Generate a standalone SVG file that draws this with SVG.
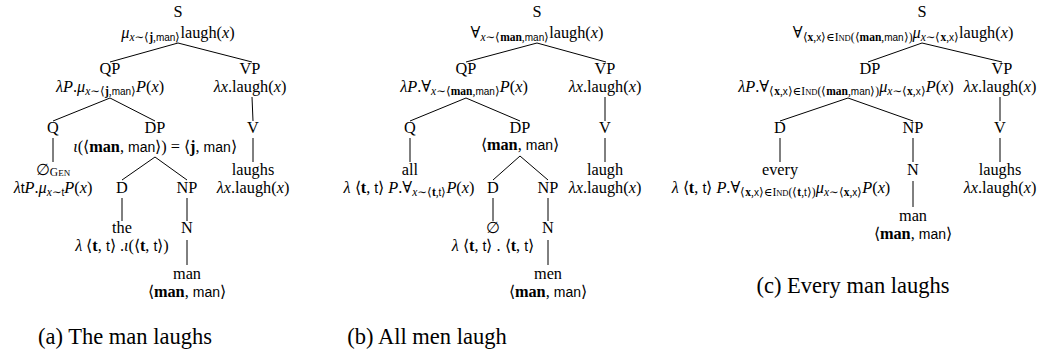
<svg xmlns="http://www.w3.org/2000/svg" width="1050" height="362" viewBox="0 0 1050 362">
<style>
text { font-family: "Liberation Serif", "DejaVu Serif", serif; font-size: 16.3px; fill: #000; text-anchor: middle; }
.i { font-style: italic; }
.b { font-weight: bold; }
.sf { font-family: "Liberation Sans", "DejaVu Sans", sans-serif; font-size: 14px; }
.s { font-size: 11.5px; }
.ss { font-family: "Liberation Sans", "DejaVu Sans", sans-serif; font-size: 10px; }
.sc { font-size: 9px; }
.sc2 { font-size: 8.5px; }
.a { font-family: "DejaVu Sans", sans-serif; font-weight: 200; }
.cap { font-size: 22.5px; }
.e line { stroke: #000; stroke-width: 1; }
</style>
<rect width="1050" height="362" fill="#fff"/>
<g class="e" id="connectors">
  <!-- tree a -->
  <line x1="178" y1="43" x2="110" y2="62"/>
  <line x1="178" y1="43" x2="252" y2="62"/>
  <line x1="110" y1="98" x2="53" y2="121"/>
  <line x1="110" y1="98" x2="155" y2="121"/>
  <line x1="252" y1="97" x2="253" y2="121"/>
  <line x1="53" y1="138" x2="53" y2="162"/>
  <line x1="155" y1="157" x2="122" y2="180"/>
  <line x1="155" y1="157" x2="187" y2="180"/>
  <line x1="253" y1="138" x2="253" y2="162"/>
  <line x1="122" y1="198" x2="122" y2="221"/>
  <line x1="187" y1="198" x2="187" y2="221"/>
  <line x1="187" y1="240" x2="187" y2="265"/>
  <!-- tree b -->
  <line x1="537" y1="43" x2="466" y2="62"/>
  <line x1="537" y1="43" x2="606" y2="62"/>
  <line x1="466" y1="98" x2="410" y2="121"/>
  <line x1="466" y1="98" x2="520" y2="121"/>
  <line x1="605" y1="97" x2="605" y2="121"/>
  <line x1="410" y1="138" x2="410" y2="162"/>
  <line x1="520" y1="156" x2="493" y2="180"/>
  <line x1="520" y1="156" x2="548" y2="180"/>
  <line x1="605" y1="138" x2="605" y2="162"/>
  <line x1="493" y1="198" x2="493" y2="221"/>
  <line x1="548" y1="198" x2="548" y2="221"/>
  <line x1="548" y1="240" x2="548" y2="265"/>
  <!-- tree c -->
  <line x1="922" y1="43" x2="868" y2="62"/>
  <line x1="922" y1="43" x2="1002" y2="62"/>
  <line x1="848" y1="98" x2="780" y2="121"/>
  <line x1="848" y1="98" x2="913" y2="121"/>
  <line x1="1000" y1="97" x2="1000" y2="121"/>
  <line x1="780" y1="138" x2="780" y2="162"/>
  <line x1="913" y1="138" x2="913" y2="162"/>
  <line x1="1000" y1="138" x2="1000" y2="162"/>
  <line x1="913" y1="181" x2="913" y2="207"/>
</g>

<!-- ===== Tree (a) ===== -->
<g id="a-S">
  <text x="178" y="17">S</text>
  <text x="178" y="38"><tspan class="i">μ</tspan><tspan class="s" dy="3"><tspan class="i">x</tspan>∼<tspan class="a">⟨</tspan><tspan class="b">j</tspan>,<tspan class="ss">man</tspan><tspan class="a">⟩</tspan></tspan><tspan dy="-3">laugh(</tspan><tspan class="i">x</tspan>)</text>
</g>
<g id="a-QP">
  <text x="110" y="74">QP</text>
  <text x="110" y="92"><tspan class="i">λP</tspan>.<tspan class="i">μ</tspan><tspan class="s" dy="3"><tspan class="i">x</tspan>∼<tspan class="a">⟨</tspan><tspan class="b">j</tspan>,<tspan class="ss">man</tspan><tspan class="a">⟩</tspan></tspan><tspan class="i" dy="-3">P</tspan>(<tspan class="i">x</tspan>)</text>
</g>
<g id="a-VP">
  <text x="250" y="74">VP</text>
  <text x="250" y="92"><tspan class="i">λx</tspan>.laugh(<tspan class="i">x</tspan>)</text>
</g>
<g id="a-Q">
  <text x="53" y="133">Q</text>
  <text x="53" y="175">∅<tspan class="s" dy="1">G</tspan><tspan class="sc">EN</tspan></text>
  <text x="53" y="193"><tspan class="i">λ</tspan><tspan class="sf">t</tspan><tspan class="i">P</tspan>.<tspan class="i">μ</tspan><tspan class="s" dy="3"><tspan class="i">x</tspan>∼<tspan class="ss">t</tspan></tspan><tspan class="i" dy="-3">P</tspan>(<tspan class="i">x</tspan>)</text>
</g>
<g id="a-DP">
  <text x="155" y="133">DP</text>
  <text x="155" y="152"><tspan class="i">ι</tspan>(<tspan class="a">⟨</tspan><tspan class="b">man</tspan>, <tspan class="sf">man</tspan><tspan class="a">⟩</tspan>) = <tspan class="a">⟨</tspan><tspan class="b">j</tspan>, <tspan class="sf">man</tspan><tspan class="a">⟩</tspan></text>
</g>
<g id="a-V">
  <text x="253" y="133">V</text>
  <text x="253" y="175">laughs</text>
  <text x="253" y="193"><tspan class="i">λx</tspan>.laugh(<tspan class="i">x</tspan>)</text>
</g>
<g id="a-D">
  <text x="122" y="193">D</text>
  <text x="122" y="233">the</text>
  <text x="122" y="251"><tspan class="i">λ</tspan> <tspan class="a">⟨</tspan><tspan class="b">t</tspan>, <tspan class="sf">t</tspan><tspan class="a">⟩</tspan> .<tspan class="i">ι</tspan>(<tspan class="a">⟨</tspan><tspan class="b">t</tspan>, <tspan class="sf">t</tspan><tspan class="a">⟩</tspan>)</text>
</g>
<g id="a-NP">
  <text x="187" y="193">NP</text>
</g>
<g id="a-N">
  <text x="187" y="233">N</text>
  <text x="187" y="279">man</text>
  <text x="187" y="297"><tspan class="a">⟨</tspan><tspan class="b">man</tspan>, <tspan class="sf">man</tspan><tspan class="a">⟩</tspan></text>
</g>

<!-- ===== Tree (b) ===== -->
<g id="b-S">
  <text x="537" y="17">S</text>
  <text x="537" y="38">∀<tspan class="s" dy="3"><tspan class="i">x</tspan>∼<tspan class="a">⟨</tspan><tspan class="b">man</tspan>,<tspan class="ss">man</tspan><tspan class="a">⟩</tspan></tspan><tspan dy="-3">laugh(</tspan><tspan class="i">x</tspan>)</text>
</g>
<g id="b-QP">
  <text x="466" y="74">QP</text>
  <text x="464" y="92"><tspan class="i">λP</tspan>.∀<tspan class="s" dy="3"><tspan class="i">x</tspan>∼<tspan class="a">⟨</tspan><tspan class="b">man</tspan>,<tspan class="ss">man</tspan><tspan class="a">⟩</tspan></tspan><tspan class="i" dy="-3">P</tspan>(<tspan class="i">x</tspan>)</text>
</g>
<g id="b-VP">
  <text x="605" y="74">VP</text>
  <text x="605" y="92"><tspan class="i">λx</tspan>.laugh(<tspan class="i">x</tspan>)</text>
</g>
<g id="b-Q">
  <text x="410" y="133">Q</text>
  <text x="410" y="175">all</text>
  <text x="409" y="193"><tspan class="i">λ</tspan> <tspan class="a">⟨</tspan><tspan class="b">t</tspan>, <tspan class="sf">t</tspan><tspan class="a">⟩</tspan> <tspan class="i">P</tspan>.∀<tspan class="s" dy="3"><tspan class="i">x</tspan>∼<tspan class="a">⟨</tspan><tspan class="b">t</tspan>,<tspan class="ss">t</tspan><tspan class="a">⟩</tspan></tspan><tspan class="i" dy="-3">P</tspan>(<tspan class="i">x</tspan>)</text>
</g>
<g id="b-DP">
  <text x="520" y="133">DP</text>
  <text x="520" y="150"><tspan class="a">⟨</tspan><tspan class="b">man</tspan>, <tspan class="sf">man</tspan><tspan class="a">⟩</tspan></text>
</g>
<g id="b-V">
  <text x="605" y="133">V</text>
  <text x="605" y="175">laugh</text>
  <text x="605" y="193"><tspan class="i">λx</tspan>.laugh(<tspan class="i">x</tspan>)</text>
</g>
<g id="b-D">
  <text x="493" y="193">D</text>
  <text x="493" y="233">∅</text>
  <text x="493" y="251"><tspan class="i">λ</tspan> <tspan class="a">⟨</tspan><tspan class="b">t</tspan>, <tspan class="sf">t</tspan><tspan class="a">⟩</tspan> . <tspan class="a">⟨</tspan><tspan class="b">t</tspan>, <tspan class="sf">t</tspan><tspan class="a">⟩</tspan></text>
</g>
<g id="b-NP">
  <text x="548" y="193">NP</text>
</g>
<g id="b-N">
  <text x="548" y="233">N</text>
  <text x="548" y="279">men</text>
  <text x="548" y="297"><tspan class="a">⟨</tspan><tspan class="b">man</tspan>, <tspan class="sf">man</tspan><tspan class="a">⟩</tspan></text>
</g>

<!-- ===== Tree (c) ===== -->
<g id="c-S">
  <text x="922" y="17">S</text>
  <text x="903" y="38">∀<tspan class="s" dy="3"><tspan class="a">⟨</tspan><tspan class="b">x</tspan>,<tspan class="ss">x</tspan><tspan class="a">⟩</tspan>∈I<tspan class="sc2">ND</tspan>(<tspan class="a">⟨</tspan><tspan class="b">man</tspan>,<tspan class="ss">man</tspan><tspan class="a">⟩</tspan>)</tspan><tspan class="i" dy="-3">μ</tspan><tspan class="s" dy="3"><tspan class="i">x</tspan>∼<tspan class="a">⟨</tspan><tspan class="b">x</tspan>,<tspan class="ss">x</tspan><tspan class="a">⟩</tspan></tspan><tspan dy="-3">laugh(</tspan><tspan class="i">x</tspan>)</text>
</g>
<g id="c-DP">
  <text x="870" y="74">DP</text>
  <text x="846" y="92"><tspan class="i">λP</tspan>.∀<tspan class="s" dy="3"><tspan class="a">⟨</tspan><tspan class="b">x</tspan>,<tspan class="ss">x</tspan><tspan class="a">⟩</tspan>∈I<tspan class="sc2">ND</tspan>(<tspan class="a">⟨</tspan><tspan class="b">man</tspan>,<tspan class="ss">man</tspan><tspan class="a">⟩</tspan>)</tspan><tspan class="i" dy="-3">μ</tspan><tspan class="s" dy="3"><tspan class="i">x</tspan>∼<tspan class="a">⟨</tspan><tspan class="b">x</tspan>,<tspan class="ss">x</tspan><tspan class="a">⟩</tspan></tspan><tspan class="i" dy="-3">P</tspan>(<tspan class="i">x</tspan>)</text>
</g>
<g id="c-VP">
  <text x="1002" y="74">VP</text>
  <text x="1000" y="92"><tspan class="i">λx</tspan>.laugh(<tspan class="i">x</tspan>)</text>
</g>
<g id="c-D">
  <text x="780" y="133">D</text>
  <text x="780" y="175">every</text>
  <text x="781" y="193"><tspan class="i">λ</tspan> <tspan class="a">⟨</tspan><tspan class="b">t</tspan>, <tspan class="sf">t</tspan><tspan class="a">⟩</tspan> <tspan class="i">P</tspan>.∀<tspan class="s" dy="3"><tspan class="a">⟨</tspan><tspan class="b">x</tspan>,<tspan class="ss">x</tspan><tspan class="a">⟩</tspan>∈I<tspan class="sc2">ND</tspan>(<tspan class="a">⟨</tspan><tspan class="b">t</tspan>,<tspan class="ss">t</tspan><tspan class="a">⟩</tspan>)</tspan><tspan class="i" dy="-3">μ</tspan><tspan class="s" dy="3"><tspan class="i">x</tspan>∼<tspan class="a">⟨</tspan><tspan class="b">x</tspan>,<tspan class="ss">x</tspan><tspan class="a">⟩</tspan></tspan><tspan class="i" dy="-3">P</tspan>(<tspan class="i">x</tspan>)</text>
</g>
<g id="c-NP">
  <text x="913" y="133">NP</text>
</g>
<g id="c-N">
  <text x="913" y="175">N</text>
  <text x="913" y="221">man</text>
  <text x="913" y="239"><tspan class="a">⟨</tspan><tspan class="b">man</tspan>, <tspan class="sf">man</tspan><tspan class="a">⟩</tspan></text>
</g>
<g id="c-V">
  <text x="1000" y="133">V</text>
  <text x="1000" y="175">laughs</text>
  <text x="1000" y="193"><tspan class="i">λx</tspan>.laugh(<tspan class="i">x</tspan>)</text>
</g>

<!-- captions -->
<g id="captions">
  <text class="cap" x="125" y="344">(a) The man laughs</text>
  <text class="cap" x="427" y="344">(b) All men laugh</text>
  <text class="cap" x="853" y="293">(c) Every man laughs</text>
</g>
</svg>
